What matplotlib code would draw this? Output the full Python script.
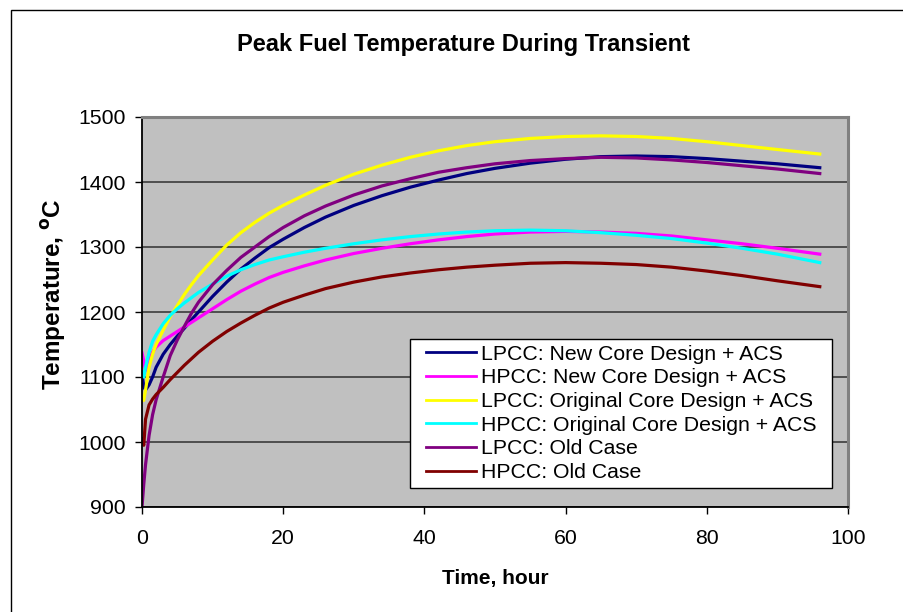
import numpy as np
import matplotlib
matplotlib.use('Agg')
import matplotlib.pyplot as plt
from matplotlib.patches import Rectangle

plt.rcParams['font.family'] = ['Liberation Sans', 'DejaVu Sans']

# time (hour) shared by all series
time_h = [0, 0.25, 0.5, 1, 1.5, 2, 3, 4, 5, 6, 7, 8, 10, 12, 14, 16, 18, 20, 23, 26,
          30, 34, 38, 42, 46, 50, 55, 60, 65, 70, 75, 80, 85, 90, 96]

lpcc_new = [1105, 1085, 1080, 1088, 1100, 1115, 1135, 1150, 1163, 1175, 1188, 1200, 1224, 1246, 1266, 1283,
            1299, 1312, 1330, 1346, 1364, 1379, 1392, 1403, 1413, 1421, 1429, 1435, 1439, 1440, 1439, 1436,
            1432, 1428, 1422]
hpcc_new = [1137, 1125, 1110, 1125, 1138, 1146, 1156, 1163, 1170, 1177, 1184, 1191, 1205, 1219, 1232, 1243,
            1253, 1261, 1271, 1280, 1290, 1298, 1305, 1311, 1316, 1320, 1323, 1324, 1323, 1321, 1317, 1311,
            1305, 1298, 1289]
lpcc_orig = [1070, 1064, 1080, 1115, 1135, 1150, 1172, 1193, 1210, 1227, 1242, 1256, 1280, 1303, 1322, 1338,
             1352, 1364, 1380, 1395, 1412, 1426, 1438, 1448, 1456, 1462, 1467, 1470, 1471, 1470, 1467, 1462,
             1456, 1450, 1443]
hpcc_orig = [1108, 1100, 1115, 1138, 1155, 1165, 1182, 1195, 1205, 1214, 1222, 1230, 1243, 1255, 1265, 1273,
             1280, 1285, 1292, 1298, 1305, 1311, 1316, 1320, 1323, 1325, 1326, 1325, 1322, 1318, 1313, 1306,
             1298, 1289, 1276]
lpcc_old = [900, 935, 965, 1010, 1042, 1065, 1100, 1133, 1157, 1178, 1198, 1215, 1242, 1264, 1284, 1300,
            1316, 1330, 1348, 1363, 1380, 1394, 1405, 1415, 1422, 1428, 1433, 1436, 1438, 1437, 1434, 1430,
            1425, 1420, 1413]
hpcc_old = [1005, 995, 1035, 1057, 1066, 1073, 1084, 1096, 1107, 1118, 1128, 1138, 1155, 1170, 1183, 1195,
            1206, 1215, 1226, 1236, 1246, 1254, 1260, 1265, 1269, 1272, 1275, 1276, 1275, 1273, 1269, 1263,
            1256, 1248, 1239]

series = [
    ('LPCC: New Core Design + ACS', lpcc_new, '#000080'),
    ('HPCC: New Core Design + ACS', hpcc_new, '#FF00FF'),
    ('LPCC: Original Core Design + ACS', lpcc_orig, '#FFFF00'),
    ('HPCC: Original Core Design + ACS', hpcc_orig, '#00FFFF'),
    ('LPCC: Old Case', lpcc_old, '#800080'),
    ('HPCC: Old Case', hpcc_old, '#800000'),
]

W, H = 904, 612
fig = plt.figure(figsize=(W / 100, H / 100), dpi=100)
fig.patch.set_facecolor('white')

# outer chart border (continues past the right and bottom edge)
fig.patches.append(Rectangle((11 / W, -0.1), 1.2, (H - 10) / H + 0.1, transform=fig.transFigure,
                             fill=False, edgecolor='black', linewidth=1.0))

ax = fig.add_axes([142 / W, (H - 507) / H, 706 / W, 390 / H])
ax.set_facecolor('#C0C0C0')

for label, vals, col in series:
    ax.plot(time_h, vals, color=col, linewidth=2.3, label=label)

ax.set_xlim(0, 100)
ax.set_ylim(900, 1500)
ax.set_xticks(np.arange(0, 101, 20))
ax.set_yticks(np.arange(900, 1501, 100))
ax.yaxis.grid(True, color='#303030', linewidth=1.1)
ax.set_axisbelow(True)

for s in ['top', 'right']:
    ax.spines[s].set_color('#808080')
    ax.spines[s].set_linewidth(2.2)
for s in ['left', 'bottom']:
    ax.spines[s].set_color('black')
    ax.spines[s].set_linewidth(1.3)

ax.tick_params(axis='both', direction='out', length=5, width=1.0, labelsize=15.3)
ax.tick_params(axis='x', pad=11)
ax.tick_params(axis='y', pad=7)

ax.set_xlabel('Time, hour', fontsize=15, fontweight='bold')
ax.xaxis.set_label_coords(0.5, -0.16)
ax.set_ylabel('Temperature, $\\mathbf{^{o}}$C', fontsize=17.5, fontweight='bold')
ax.yaxis.set_label_coords(-0.105, 0.545)

fig.text(464 / W, 1 - 45 / H, 'Peak Fuel Temperature During Transient', ha='center', va='center',
         fontsize=17, fontweight='bold')

xpad = 10  # extra horizontal padding of the legend box (px)
leg = ax.legend(loc='lower right', bbox_to_anchor=((832 - xpad - 142) / 706, (507 - 488) / 390),
                borderaxespad=0, fontsize=15.3, frameon=False,
                handlelength=2.35, handletextpad=0.2, labelspacing=0.22, borderpad=0.28)
leg.set_zorder(6)
for line in leg.get_lines():
    line.set_linewidth(2.0)

fig.canvas.draw()
bb = leg.get_window_extent().transformed(ax.transAxes.inverted())
dx = xpad / 706
ax.add_patch(Rectangle((bb.x0 - dx, bb.y0), bb.width + 2 * dx, bb.height, transform=ax.transAxes,
                       facecolor='white', edgecolor='black', linewidth=1.0, zorder=5.5, clip_on=False))

fig.savefig('out.png', dpi=100)
